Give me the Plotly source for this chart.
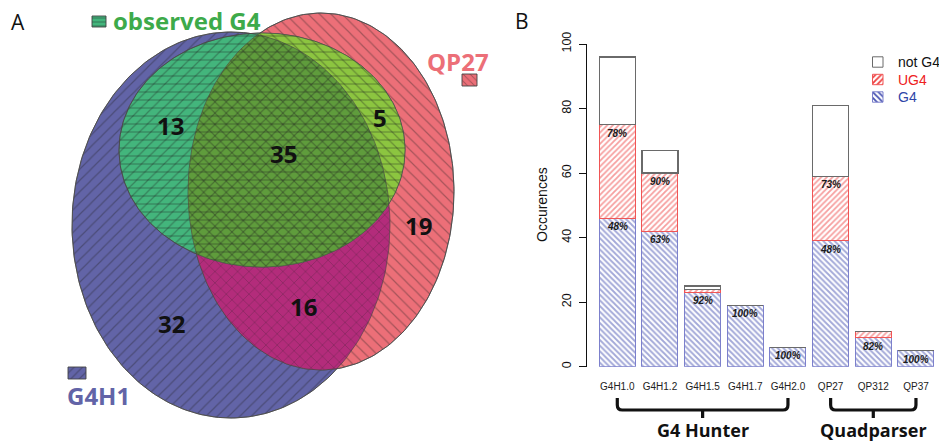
import math
import plotly.graph_objects as go

# ---------------- data ----------------
# Panel B: stacked occurrence counts per predictor / threshold
categories = ["G4H1.0", "G4H1.2", "G4H1.5", "G4H1.7", "G4H2.0", "QP27", "QP312", "QP37"]
g4_counts = [46, 42, 23, 19, 6, 39, 9, 5]
ug4_counts = [29, 18, 1, 0, 0, 20, 2, 0]
not_g4_counts = [21, 7, 1, 0, 0, 22, 0, 0]
y_ticks = [0, 20, 40, 60, 80, 100]
groups = [("G4 Hunter", 0, 4), ("Quadparser", 5, 7)]
stack_names = ["not G4", "UG4", "G4"]

# Panel A: Venn region counts
venn_sets = ["G4H1", "QP27", "observed G4"]
venn_region_counts = {
    "G4H1 only": 32,
    "QP27 only": 19,
    "G4H1 & observed": 13,
    "QP27 & observed": 5,
    "all three": 35,
    "G4H1 & QP27": 16,
}

W, H = 939, 442
FONT_SANS = "Open Sans"
FONT_R = "Liberation Sans, Arial"

# ---------------- helpers ----------------
def ellipse(cx, cy, a, b, n=240):
    return [(cx + a * math.cos(2 * math.pi * i / n), cy + b * math.sin(2 * math.pi * i / n)) for i in range(n)]


def _inside(p, a, b):
    return (b[0] - a[0]) * (p[1] - a[1]) - (b[1] - a[1]) * (p[0] - a[0]) >= 0


def _cross_point(s, e, a, b):
    x1, y1 = s
    x2, y2 = e
    x3, y3 = a
    x4, y4 = b
    den = (x1 - x2) * (y3 - y4) - (y1 - y2) * (x3 - x4)
    t = ((x1 - x3) * (y3 - y4) - (y1 - y3) * (x3 - x4)) / den
    return (x1 + t * (x2 - x1), y1 + t * (y2 - y1))


def clip(subject, clipper):
    """Sutherland-Hodgman intersection of a polygon with a convex polygon."""
    out = list(subject)
    n = len(clipper)
    for i in range(n):
        a, b = clipper[i], clipper[(i + 1) % n]
        inp, out = out, []
        if not inp:
            break
        s = inp[-1]
        for e in inp:
            if _inside(e, a, b):
                if not _inside(s, a, b):
                    out.append(_cross_point(s, e, a, b))
                out.append(e)
            elif _inside(s, a, b):
                out.append(_cross_point(s, e, a, b))
            s = e
    return out


def px_y(p):
    return 1 - p / H


fig = go.Figure()

# ---------------- Panel A: Venn diagram (drawn on a pixel-unit overlay axis) ----------------
blue_set = ellipse(231, 225, 159, 193)
red_set = ellipse(321, 191.5, 133, 178.5)
green_set = ellipse(262, 150, 143, 117)

br = clip(blue_set, red_set)
gb = clip(green_set, blue_set)
gr = clip(green_set, red_set)
gbr = clip(gb, red_set)

HATCH = "#1c1c1c"
CLEAR = "rgba(0,0,0,0)"


def region(poly, fill, shape, outline=None, fg=HATCH, fgop=0.34, size=8, sol=0.15, lw=0.9):
    xs = [p[0] for p in poly] + [poly[0][0]]
    ys = [p[1] for p in poly] + [poly[0][1]]
    pattern = dict(shape=shape, fgcolor=fg, fgopacity=fgop, bgcolor=fill, size=size, solidity=sol) if shape else None
    fig.add_trace(go.Scatter(
        x=xs, y=ys, xaxis="x2", yaxis="y2", mode="lines", fill="toself",
        fillcolor=fill, fillpattern=pattern,
        line=dict(width=lw if outline else 0, color=outline or CLEAR),
        hoverinfo="skip", showlegend=False,
    ))


region(blue_set, "#6264a7", "/", "#555555")
region(red_set, "#ec6f78", "\\", "#555555")
region(br, "#b32c7b", "x")
region(green_set, "#43b57c", "-", "#555555")
region(gr, "#8cc540", "-")
region(gbr, "#5f9c3c", "-")
region(gb, CLEAR, "/")
region(gr, CLEAR, "\\")

# outlines on top
for poly in (blue_set, red_set, green_set):
    fig.add_trace(go.Scatter(
        x=[p[0] for p in poly] + [poly[0][0]], y=[p[1] for p in poly] + [poly[0][1]],
        xaxis="x2", yaxis="y2", mode="lines", line=dict(width=0.8, color="rgba(70,70,70,0.8)"),
        hoverinfo="skip", showlegend=False,
    ))


def swatch(x0, y0, x1, y1, fill, shape, outline="#444444", **kw):
    region([(x0, y0), (x1, y0), (x1, y1), (x0, y1)], fill, shape, outline, **kw)


swatch(92, 16, 106, 27, "#43b57c", "-", size=4, sol=0.3)
swatch(462, 74, 477, 86, "#ec6f78", "\\", size=5, sol=0.2)
swatch(68, 367, 86, 379, "#6264a7", "/", size=6, sol=0.2)

venn_label_pos = {
    "G4H1 only": (171, 323),
    "QP27 only": (418, 225),
    "G4H1 & observed": (170, 125),
    "QP27 & observed": (380, 117),
    "all three": (283, 153),
    "G4H1 & QP27": (303, 306),
}
annotations = []
for key, count in venn_region_counts.items():
    x, y = venn_label_pos[key]
    annotations.append(dict(x=x, y=y, xref="x2", yref="y2", text=str(count), showarrow=False,
                            font=dict(family=FONT_SANS, size=24, color="#111111", weight="bold")))

set_label_style = {
    "G4H1": (98, 395, "#6264a7", "center"),
    "QP27": (458, 61, "#ec6f78", "center"),
    "observed G4": (111, 20, "#3daa4a", "left"),
}
for name in venn_sets:
    x, y, col, anchor = set_label_style[name]
    annotations.append(dict(x=x, y=y, xref="x2", yref="y2", text=name, showarrow=False,
                            xanchor=anchor,
                            font=dict(family=FONT_SANS, size=24, color=col, weight="bold")))

for letter, x, y in (("A", 18, 22), ("B", 522, 21)):
    annotations.append(dict(x=x, y=y, xref="x2", yref="y2", text=letter, showarrow=False,
                            font=dict(family=FONT_SANS, size=21, color="#111111")))

# ---------------- Panel B: stacked bars ----------------
G4_STYLE = dict(line="#7c80cc", fg="#4853b2")
UG4_STYLE = dict(line="#f05555", fg="#ee4040")

xs = list(range(len(categories)))
fig.add_trace(go.Bar(
    x=xs, y=g4_counts, name="G4",
    marker=dict(color="white", line=dict(color=G4_STYLE["line"], width=1),
                pattern=dict(shape="\\", fgcolor=G4_STYLE["fg"], bgcolor="white", size=4, solidity=0.47)),
    hoverinfo="skip", showlegend=False,
))
fig.add_trace(go.Bar(
    x=xs, y=ug4_counts, name="UG4",
    marker=dict(color="white", line=dict(color=UG4_STYLE["line"], width=1),
                pattern=dict(shape="/", fgcolor=UG4_STYLE["fg"], bgcolor="white", size=4, solidity=0.45)),
    hoverinfo="skip", showlegend=False,
))
fig.add_trace(go.Bar(
    x=xs, y=not_g4_counts, name="not G4",
    marker=dict(color="white", line=dict(color="#6a6a6a", width=1.2)),
    hoverinfo="skip", showlegend=False,
))

# key for the stacked segments
legend_rows = {
    "not G4": (62, "white", None, "#6a6a6a", "#111111"),
    "UG4": (79.5, "white", "/", UG4_STYLE["line"], "#ee2020"),
    "G4": (97, "white", "\\", G4_STYLE["line"], "#2f45a8"),
}
for name in stack_names:
    yc, fill, shape, outline, tcol = legend_rows[name]
    fg = UG4_STYLE["fg"] if name == "UG4" else G4_STYLE["fg"]
    swatch(872.5, yc - 5.2, 883, yc + 5.2, fill, shape, outline, fg=fg, fgop=1, size=4, sol=0.45, lw=1)
    annotations.append(dict(x=896, y=yc, xref="x2", yref="y2", text=name, xanchor="left", showarrow=False,
                            font=dict(family=FONT_R, size=14, color=tcol)))

# percentage labels: share of G4 and of G4+UG4 in each bar
pct_font = dict(family=FONT_R, size=10, color="#1a1a1a", weight="bold", style="italic")
for i in xs:
    total = g4_counts[i] + ug4_counts[i] + not_g4_counts[i]
    annotations.append(dict(x=i, y=g4_counts[i], xref="x", yref="y", yanchor="top", yshift=-1,
                            text=f"{round(100 * g4_counts[i] / total)}%", showarrow=False, font=pct_font))
    if ug4_counts[i] >= 5:
        both = g4_counts[i] + ug4_counts[i]
        annotations.append(dict(x=i, y=both, xref="x", yref="y", yanchor="top", yshift=-1,
                                text=f"{round(100 * both / total)}%", showarrow=False, font=pct_font))

annotations.append(dict(x=542, y=205, xref="x2", yref="y2", text="Occurences",
                        textangle=-90, showarrow=False, font=dict(family=FONT_R, size=14, color="#111111")))

# braces grouping the predictors
XR = [-0.717, 7.54]
pitch = (W - 586.7) / (XR[1] - XR[0])
shapes = []
yt, yb, yn, r = px_y(398), px_y(410), px_y(418), 5 / H
for label, i0, i1 in groups:
    rx = 5 / pitch
    cm = (i0 + i1) / 2
    path = (f"M{i0},{yt} L{i0},{yb + r} Q{i0},{yb} {i0 + rx},{yb} L{i1 - rx},{yb} "
            f"Q{i1},{yb} {i1},{yb + r} L{i1},{yt} M{cm},{yb} L{cm},{yn}")
    shapes.append(dict(type="path", path=path, xref="x", yref="paper",
                       line=dict(color="#111111", width=3.2)))
    annotations.append(dict(x=cm, y=px_y(429.5), xref="x", yref="paper", text=label, showarrow=False,
                            xanchor="center", yanchor="middle",
                            font=dict(family=FONT_SANS, size=18, color="#111111", weight="bold")))

fig.update_layout(
    width=W, height=H, margin=dict(l=0, r=0, t=0, b=0, autoexpand=False),
    paper_bgcolor="white", plot_bgcolor="rgba(0,0,0,0)",
    barmode="stack", bargap=0.156,
    showlegend=False,
    xaxis=dict(domain=[586.7 / W, 1], range=XR, tickvals=xs, ticktext=categories, automargin=False,
               showline=False, showgrid=False, zeroline=False, ticks="",
               tickfont=dict(family=FONT_R, size=10, color="#222222"), ticklabelstandoff=12),
    yaxis=dict(domain=[px_y(366.7), px_y(44)], range=[0, 100], tickvals=y_ticks, automargin=False,
               showline=True, linecolor="#111111", linewidth=1, ticks="outside", ticklen=7,
               tickcolor="#111111", tickangle=-90, showgrid=False, zeroline=False,
               tickfont=dict(family=FONT_R, size=12.5, color="#111111"), ticklabelstandoff=3),
    xaxis2=dict(domain=[0, 1], range=[0, W], visible=False, anchor="y2", automargin=False),
    yaxis2=dict(domain=[0, 1], range=[H, 0], visible=False, anchor="x2", automargin=False),
    annotations=annotations,
    shapes=shapes,
)

fig.write_html("out.html")
